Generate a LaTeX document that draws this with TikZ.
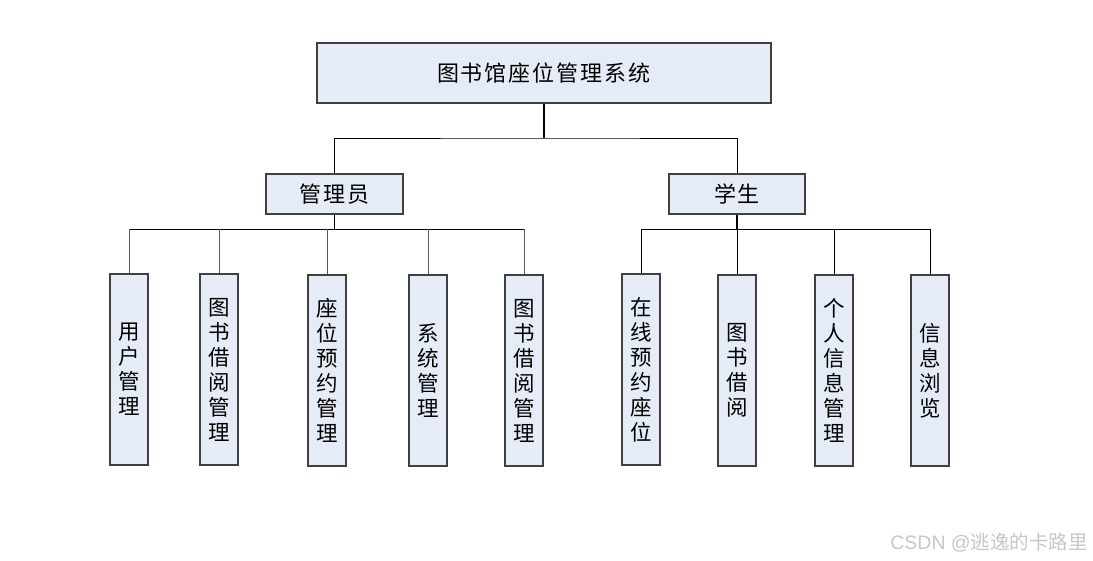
\documentclass[tikz,border=0pt]{standalone}
\usepackage{fontspec}
\newfontfamily\cjk{Noto Sans CJK SC}
\begin{document}
\begin{tikzpicture}[x=1pt,y=-1pt,
  boxst/.style={draw=black!75,line width=1.1pt,fill=boxfill,inner sep=0pt,font=\cjk},
  vbox/.style={boxst,minimum width=38pt,minimum height=191pt,font=\cjk\fontsize{21.5}{25}\selectfont,align=center},
  link/.style={draw=black,line width=0.9pt},
  clink/.style={draw=black!65,line width=1pt}]
\definecolor{boxfill}{HTML}{E6ECF7}
\useasboundingbox (0,0) rectangle (1093,560);
\fill[white] (0,0) rectangle (1093,560);
\node[boxst,minimum width=454pt,minimum height=60pt,font=\cjk\fontsize{22}{26}\selectfont] (root) at (544,73) {图\hspace{2pt}书\hspace{2pt}馆\hspace{2pt}座\hspace{2pt}位\hspace{2pt}管\hspace{2pt}理\hspace{2pt}系\hspace{2pt}统};
\node[boxst,minimum width=137pt,minimum height=40pt,font=\cjk\fontsize{22}{26}\selectfont] (adm) at (334.5,194) {管\hspace{2pt}理\hspace{2pt}员};
\node[boxst,minimum width=136pt,minimum height=40pt,font=\cjk\fontsize{22}{26}\selectfont] (stu) at (737,194) {学\hspace{2pt}生};
\node[vbox] (a1) at (129,369.5) {用\\户\\管\\理};
\node[vbox] (a2) at (219,369.5) {图\\书\\借\\阅\\管\\理};
\node[vbox] (a3) at (327,370.5) {座\\位\\预\\约\\管\\理};
\node[vbox] (a4) at (428,370.5) {系\\统\\管\\理};
\node[vbox] (a5) at (524,370.5) {图\\书\\借\\阅\\管\\理};
\node[vbox] (s1) at (641,369.5) {在\\线\\预\\约\\座\\位};
\node[vbox] (s2) at (737,370.5) {图\\书\\借\\阅};
\node[vbox] (s3) at (834,370.5) {个\\人\\信\\息\\管\\理};
\node[vbox] (s4) at (930,370.5) {信\\息\\浏\\览};
% top level
\coordinate (rb) at (544,138);
\draw[link,line width=1.6pt] (root.south) -- (rb);
\draw[link] (adm.north) |- (rb) -| (stu.north);
% admin bus
\coordinate (ab) at (334.5,229);
\draw[link,line width=1.6pt] (adm.south) -- (ab);
\draw[link] (a1.north |- ab) -- (a5.north |- ab);
\foreach \n in {a1,a2,a3,a4,a5} \draw[clink] (\n.north |- ab) -- (\n.north);
% student bus
\coordinate (sb) at (737,229);
\draw[link,line width=1.6pt] (stu.south) -- (sb);
\draw[link] (s1.north |- sb) -- (s4.north |- sb);
\foreach \n in {s1,s2,s3,s4} \draw[link] (\n.north |- sb) -- (\n.north);
\node[text=black!22,font=\fontspec{Liberation Sans}\fontsize{19.5}{22}\selectfont,anchor=east,inner sep=0pt] (wm) at (1088,543) {CSDN @{\cjk 逃逸的卡路里}};
\end{tikzpicture}
\end{document}
